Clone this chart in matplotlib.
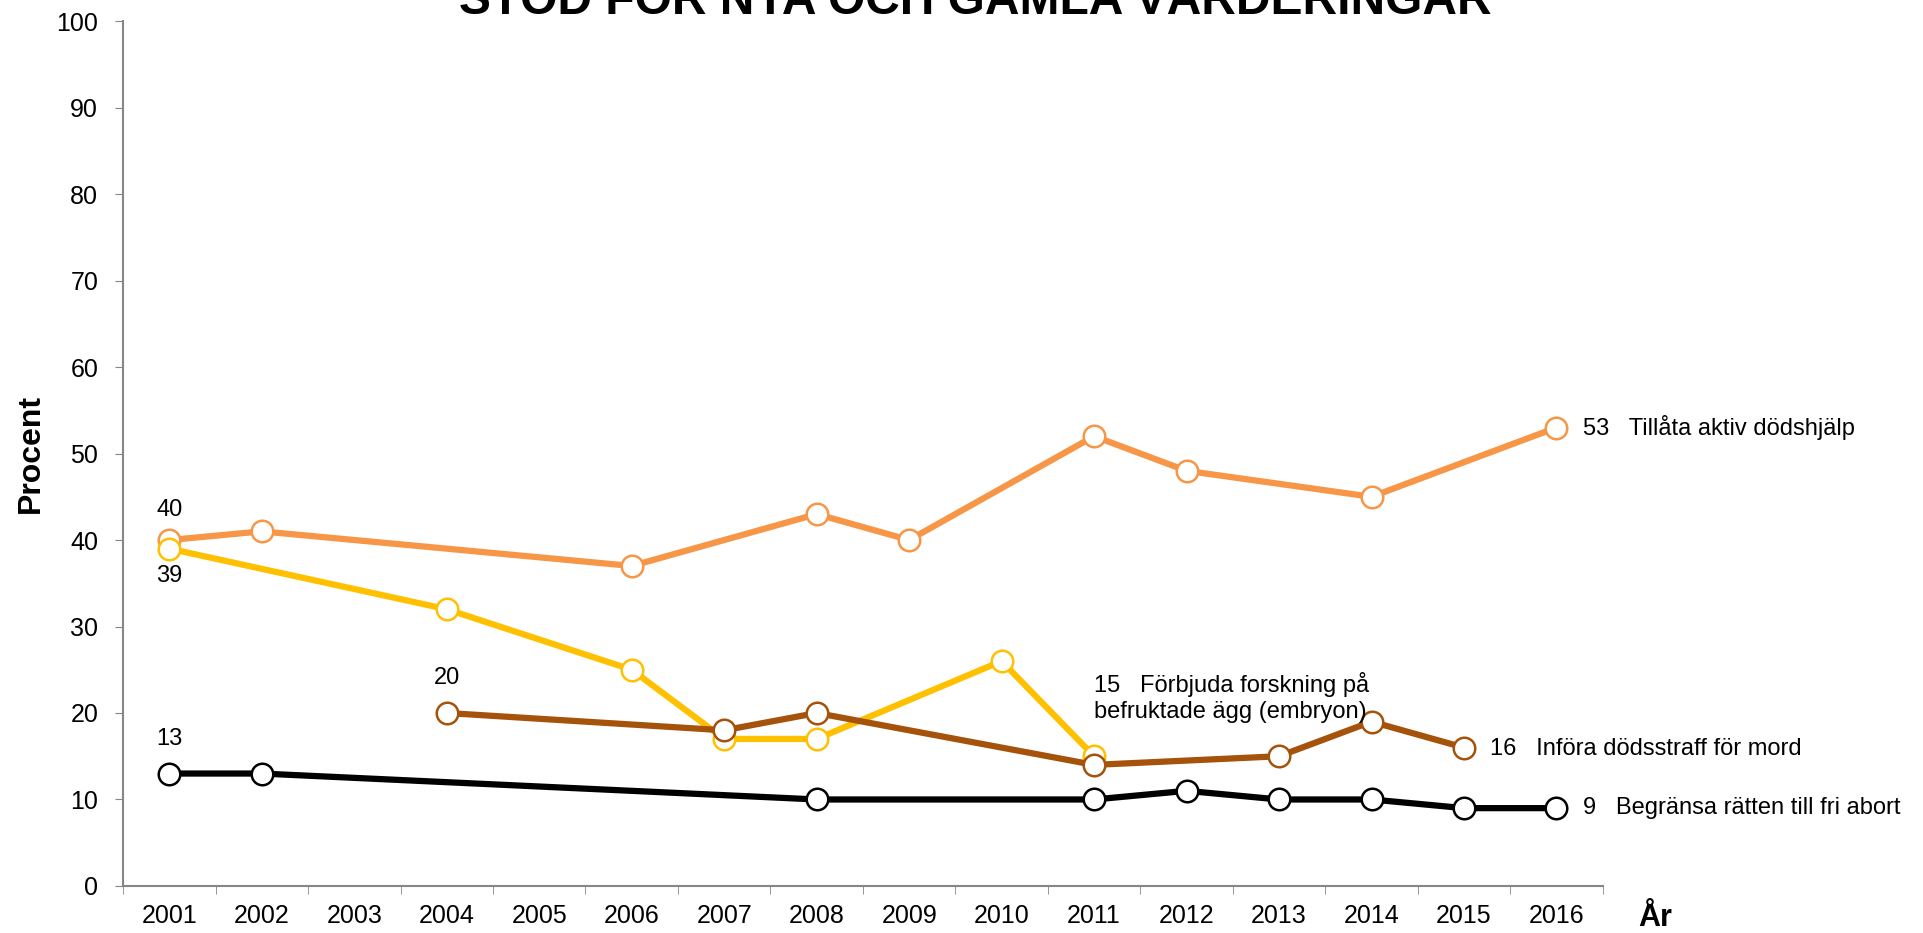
import numpy as np
import matplotlib.pyplot as plt

plt.rcParams['font.family'] = ['Liberation Sans', 'DejaVu Sans']

years = [str(y) for y in range(2001, 2017)]

# each series: years present and values (percent)
dods_years = [2001, 2002, 2006, 2008, 2009, 2011, 2012, 2014, 2016]
dods_vals = [40, 41, 37, 43, 40, 52, 48, 45, 53]

embryo_years = [2001, 2004, 2006, 2007, 2008, 2010, 2011]
embryo_vals = [39, 32, 25, 17, 17, 26, 15]

straff_years = [2004, 2007, 2008, 2011, 2013, 2014, 2015]
straff_vals = [20, 18, 20, 14, 15, 19, 16]

abort_years = [2001, 2002, 2008, 2011, 2012, 2013, 2014, 2015, 2016]
abort_vals = [13, 13, 10, 10, 11, 10, 10, 9, 9]

fig = plt.figure(figsize=(19.24, 9.33), dpi=100)
ax = fig.add_axes([0.064, 0.0504, 0.769, 0.927])


def idx(yrs):
    return [y - 2001 for y in yrs]


series = [
    (dods_years, dods_vals, '#F79646'),
    (embryo_years, embryo_vals, '#FFC000'),
    (straff_years, straff_vals, '#A5520A'),
    (abort_years, abort_vals, '#000000'),
]
for yrs, vals, col in series:
    ax.plot(idx(yrs), vals, color=col, lw=4.5, marker='o', ms=15.5,
            mfc='white', mec=col, mew=1.8, zorder=3, clip_on=False)

fs = 17
# start labels
ax.text(0, 43.5, str(dods_vals[0]), ha='center', va='center', fontsize=fs)
ax.text(0, 35.8, str(embryo_vals[0]), ha='center', va='center', fontsize=fs)
ax.text(3, 24.0, str(straff_vals[0]), ha='center', va='center', fontsize=fs)
ax.text(0, 17.0, str(abort_vals[0]), ha='center', va='center', fontsize=fs)

# end labels
ax.annotate(f"{dods_vals[-1]}   Tillåta aktiv dödshjälp", (15, dods_vals[-1]),
            xytext=(19, 0), textcoords='offset points', va='center',
            fontsize=fs, annotation_clip=False)
ax.annotate(f"{straff_vals[-1]}   Införa dödsstraff för mord", (14, straff_vals[-1]),
            xytext=(19, -1), textcoords='offset points', va='center',
            fontsize=fs, annotation_clip=False)
ax.annotate(f"{abort_vals[-1]}   Begränsa rätten till fri abort", (15, abort_vals[-1]),
            xytext=(19, 0), textcoords='offset points', va='center',
            fontsize=fs, annotation_clip=False)
ax.text(10, 21.8, f"{embryo_vals[-1]}   Förbjuda forskning på\nbefruktade ägg (embryon)",
        ha='left', va='center', fontsize=fs, linespacing=1.2)

ax.set_xlim(-0.5, 15.5)
ax.set_ylim(0, 100)
ax.set_yticks(np.arange(0, 101, 10))
ax.set_xticks(range(16))
ax.set_xticklabels(years)
ax.set_xticks(np.arange(-0.5, 16, 1), minor=True)
ax.tick_params(axis='x', which='major', length=0, labelsize=18, pad=13)
ax.tick_params(axis='x', which='minor', length=6, color='#868686', direction='out')
ax.tick_params(axis='y', labelsize=18, length=6, color='#868686', direction='out', pad=12)

for s in ['top', 'right']:
    ax.spines[s].set_visible(False)
for s in ['left', 'bottom']:
    ax.spines[s].set_color('#868686')
    ax.spines[s].set_linewidth(1.5)

ax.set_ylabel('Procent', fontsize=23, fontweight='bold', labelpad=7.5)
fig.text(0.8605, 0.007, 'År', fontsize=22, fontweight='bold', ha='center', va='baseline')

fig.text(0.507, 0.985, 'STÖD FÖR NYA OCH GAMLA VÄRDERINGAR', fontsize=34.5,
         fontweight='bold', ha='center', va='baseline')

fig.savefig('out.png', dpi=100)
